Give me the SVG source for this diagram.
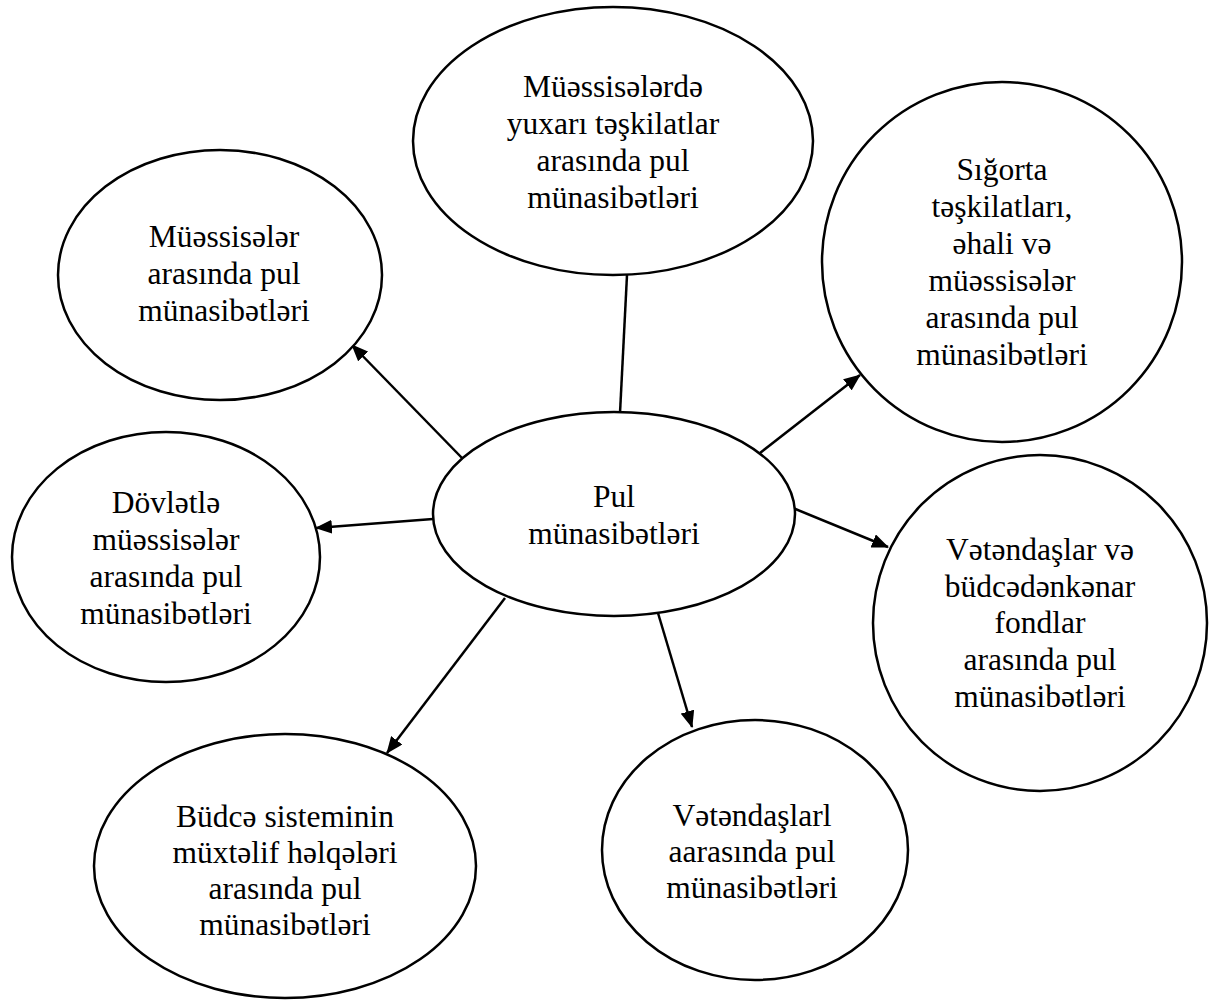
<svg xmlns="http://www.w3.org/2000/svg" width="1210" height="1002" viewBox="0 0 1210 1002">
<style>
.node ellipse{fill:#fff;stroke:#000;stroke-width:2.5}
.node text{font-family:"Liberation Serif","Times New Roman",serif;font-size:31.5px;fill:#000;text-anchor:middle}
.conn line{stroke:#000;stroke-width:2.5;fill:none}
</style>
<defs>
<marker id="arr" markerUnits="userSpaceOnUse" markerWidth="18" markerHeight="14" refX="16" refY="7" orient="auto">
<path d="M0,0 L17,7 L0,14 z" fill="#000"/>
</marker>
</defs>
<rect width="1210" height="1002" fill="#fff"/>
<g id="connectors" class="conn">
<line x1="620" y1="413" x2="627" y2="275"/>
<line x1="462" y1="458" x2="352" y2="345" marker-end="url(#arr)"/>
<line x1="760" y1="453" x2="860" y2="375" marker-end="url(#arr)"/>
<line x1="433" y1="519" x2="316" y2="528" marker-end="url(#arr)"/>
<line x1="793" y1="508" x2="888" y2="547" marker-end="url(#arr)"/>
<line x1="505" y1="598" x2="387" y2="753" marker-end="url(#arr)"/>
<line x1="658" y1="613" x2="692" y2="727" marker-end="url(#arr)"/>
</g>
<g id="n-top" class="node">
<ellipse cx="613" cy="141" rx="200" ry="134"/>
<text x="613" y="97">Müəssisələrdə</text>
<text x="613" y="134">yuxarı təşkilatlar</text>
<text x="613" y="171">arasında pul</text>
<text x="613" y="208">münasibətləri</text>
</g>
<g id="n-topleft" class="node">
<ellipse cx="220" cy="275" rx="162" ry="125"/>
<text x="224" y="247">Müəssisələr</text>
<text x="224" y="284">arasında pul</text>
<text x="224" y="321">münasibətləri</text>
</g>
<g id="n-sigorta" class="node">
<ellipse cx="1002" cy="262" rx="180" ry="180"/>
<text x="1002" y="180">Sığorta</text>
<text x="1002" y="217">təşkilatları,</text>
<text x="1002" y="254">əhali və</text>
<text x="1002" y="291">müəssisələr</text>
<text x="1002" y="328">arasında pul</text>
<text x="1002" y="365">münasibətləri</text>
</g>
<g id="n-center" class="node">
<ellipse cx="614" cy="514" rx="181" ry="102"/>
<text x="614" y="507">Pul</text>
<text x="614" y="544">münasibətləri</text>
</g>
<g id="n-leftmid" class="node">
<ellipse cx="166" cy="557" rx="154" ry="125"/>
<text x="166" y="513">Dövlətlə</text>
<text x="166" y="550">müəssisələr</text>
<text x="166" y="587">arasında pul</text>
<text x="166" y="624">münasibətləri</text>
</g>
<g id="n-rightmid" class="node">
<ellipse cx="1040" cy="623" rx="167" ry="168"/>
<text x="1040" y="560">Vətəndaşlar və</text>
<text x="1040" y="597">büdcədənkənar</text>
<text x="1040" y="633">fondlar</text>
<text x="1040" y="670">arasında pul</text>
<text x="1040" y="707">münasibətləri</text>
</g>
<g id="n-bottomleft" class="node">
<ellipse cx="285" cy="866" rx="191" ry="132"/>
<text x="285" y="827">Büdcə sisteminin</text>
<text x="285" y="863">müxtəlif həlqələri</text>
<text x="285" y="899">arasında pul</text>
<text x="285" y="935">münasibətləri</text>
</g>
<g id="n-bottomcenter" class="node">
<ellipse cx="755" cy="850" rx="153" ry="130"/>
<text x="752" y="826">Vətəndaşlarl</text>
<text x="752" y="862">aarasında pul</text>
<text x="752" y="898">münasibətləri</text>
</g>
</svg>
